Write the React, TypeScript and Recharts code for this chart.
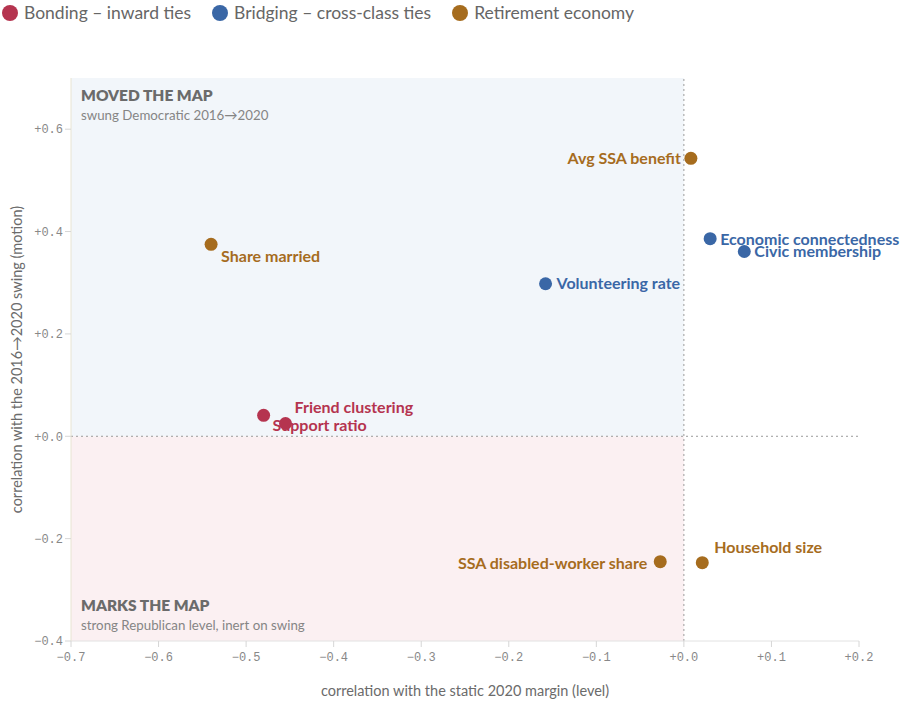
import {
  Label,
  LabelList,
  ReferenceArea,
  ReferenceLine,
  Scatter,
  ScatterChart,
  XAxis,
  YAxis,
} from 'recharts'

// bonding – inward ties
const bondingNames = ['Friend clustering', 'Support ratio']
const bondingX = [-0.455, -0.48]
const bondingY = [0.025, 0.041]

// bridging – cross-class ties
const bridgingNames = ['Volunteering rate', 'Economic connectedness', 'Civic membership']
const bridgingX = [-0.158, 0.03, 0.069]
const bridgingY = [0.298, 0.386, 0.361]

// retirement economy
const retirementNames = ['Share married', 'Avg SSA benefit', 'SSA disabled-worker share', 'Household size']
const retirementX = [-0.54, 0.008, -0.027, 0.021]
const retirementY = [0.375, 0.543, -0.245, -0.247]

const xTicks = [-0.7, -0.6, -0.5, -0.4, -0.3, -0.2, -0.1, 0, 0.1, 0.2]
const yTicks = [-0.4, -0.2, 0, 0.2, 0.4, 0.6]

const COLORS = {
  bonding: '#b5344f',
  bridging: '#3a67a6',
  retirement: '#a66c1e',
}

const legendItems = [
  { label: 'Bonding – inward ties', color: COLORS.bonding },
  { label: 'Bridging – cross-class ties', color: COLORS.bridging },
  { label: 'Retirement economy', color: COLORS.retirement },
]

// where each point's label sits relative to its dot
const labelPlacement: Record<string, { dx: number; dy: number; anchor: 'start' | 'end' }> = {
  'Share married': { dx: 10, dy: 12, anchor: 'start' },
  'Friend clustering': { dx: 9, dy: -16, anchor: 'start' },
  'Support ratio': { dx: 9, dy: 10, anchor: 'start' },
  'Volunteering rate': { dx: 11, dy: 0, anchor: 'start' },
  'Avg SSA benefit': { dx: -10, dy: 0, anchor: 'end' },
  'Economic connectedness': { dx: 10, dy: 1, anchor: 'start' },
  'Civic membership': { dx: 10, dy: 0, anchor: 'start' },
  'SSA disabled-worker share': { dx: -13, dy: 2, anchor: 'end' },
  'Household size': { dx: 12, dy: -15, anchor: 'start' },
}

const toRows = (names: string[], xs: number[], ys: number[]) =>
  names.map((name, i) => ({ name, x: xs[i], y: ys[i] }))

const bonding = toRows(bondingNames, bondingX, bondingY)
const bridging = toRows(bridgingNames, bridgingX, bridgingY)
const retirement = toRows(retirementNames, retirementX, retirementY)

const FONT = 'Lato, "Open Sans", sans-serif'
const MONO = '"Liberation Mono", "DejaVu Sans Mono", monospace'

const signed = (v: number) => {
  const s = Math.abs(v).toFixed(1)
  return v < 0 ? `\u2212${s}` : `+${s}`
}

function makeDot(color: string) {
  return (props: any) => <circle cx={props.cx} cy={props.cy} r={6.5} fill={color} />
}

const noDot = () => <g />

function makePointLabel(color: string) {
  return (props: any) => {
    const { x, y, width, height, value } = props
    const p = labelPlacement[value] ?? { dx: 10, dy: 0, anchor: 'start' }
    const cx = x + (width ?? 0) / 2
    const cy = y + (height ?? 0) / 2
    return (
      <text
        x={cx + p.dx}
        y={cy + p.dy}
        dy="0.35em"
        textAnchor={p.anchor}
        fill={color}
        fontFamily={FONT}
        fontWeight={700}
        fontSize={16}
      >
        {value}
      </text>
    )
  }
}

function quadrantLabel(title: string, sub: string, fromTop: boolean) {
  return (props: any) => {
    const vb = props.viewBox
    const x = vb.x + 10
    const titleY = fromTop ? vb.y + 23 : vb.y + vb.height - 30
    return (
      <g fontFamily={FONT}>
        <text x={x} y={titleY} fill="#6b6b6b" fontWeight={800} fontSize={15.5}>
          {title}
        </text>
        <text x={x} y={titleY + 19} fill="#858585" fontSize={13.3}>
          {sub}
        </text>
      </g>
    )
  }
}

function yTitle(props: any) {
  const vb = props.viewBox
  return (
    <text
      transform={`translate(${vb.x + 17}, ${vb.y + vb.height / 2}) rotate(-90)`}
      textAnchor="middle"
      dy="0.35em"
      fill="#6b6b6b"
      fontFamily={FONT}
      fontSize={14.5}
    >
      correlation with the 2016→2020 swing (motion)
    </text>
  )
}

const groups = [
  { key: 'bonding', data: bonding, color: COLORS.bonding },
  { key: 'bridging', data: bridging, color: COLORS.bridging },
  { key: 'retirement', data: retirement, color: COLORS.retirement },
]

export default function App() {
  return (
    <div style={{ position: 'absolute', left: 0, top: 0, width: 900, height: 706, background: '#fff' }}>
      <div
        style={{
          position: 'absolute',
          left: 2,
          top: 2,
          display: 'flex',
          alignItems: 'center',
          fontFamily: FONT,
          fontSize: 17.5,
          color: '#666',
        }}
      >
        {legendItems.map((item) => (
          <div key={item.label} style={{ display: 'flex', alignItems: 'center', marginRight: 21 }}>
            <span
              style={{
                display: 'inline-block',
                width: 16,
                height: 16,
                borderRadius: 8,
                background: item.color,
                marginRight: 6,
              }}
            />
            <span>{item.label}</span>
          </div>
        ))}
      </div>
      <ScatterChart width={900} height={706} margin={{ top: 78, right: 41, bottom: 0, left: 0 }}>
        <ReferenceArea
          x1={-0.7}
          x2={0}
          y1={0}
          y2={0.7}
          fill="#f2f6fa"
          fillOpacity={1}
          stroke="none"
          label={quadrantLabel('MOVED THE MAP', 'swung Democratic 2016→2020', true)}
        />
        <ReferenceArea
          x1={-0.7}
          x2={0}
          y1={-0.4}
          y2={0}
          fill="#fbf0f2"
          fillOpacity={1}
          stroke="none"
          label={quadrantLabel('MARKS THE MAP', 'strong Republican level, inert on swing', false)}
        />
        <ReferenceLine x={0} stroke="#9a9a9a" strokeDasharray="2 3" />
        <ReferenceLine y={0} stroke="#9a9a9a" strokeDasharray="2 3" />
        <XAxis
          type="number"
          dataKey="x"
          domain={[-0.7, 0.2]}
          ticks={xTicks}
          tickFormatter={signed}
          height={65}
          axisLine={{ stroke: '#e2e2e2' }}
          tickLine={{ stroke: '#d6d6d6' }}
          tickSize={6}
          tickMargin={5}
          tick={{ fill: '#888', fontFamily: MONO, fontSize: 12 }}
          allowDataOverflow
        >
          <Label
            value="correlation with the static 2020 margin (level)"
            position="insideBottom"
            offset={10}
            fill="#6b6b6b"
            fontFamily={FONT}
            fontSize={14.5}
          />
        </XAxis>
        <YAxis
          type="number"
          dataKey="y"
          domain={[-0.4, 0.7]}
          ticks={yTicks}
          tickFormatter={signed}
          width={71}
          axisLine={{ stroke: '#e8e4d2' }}
          tickLine={{ stroke: '#d6d6d6' }}
          tickSize={6}
          tick={{ fill: '#888', fontFamily: MONO, fontSize: 12 }}
          allowDataOverflow
        >
          <Label content={yTitle} />
        </YAxis>
        {groups.map((g) => (
          <Scatter
            key={`${g.key}-labels`}
            data={g.data}
            shape={noDot}
            legendType="none"
            isAnimationActive={false}
          >
            <LabelList dataKey="name" content={makePointLabel(g.color)} />
          </Scatter>
        ))}
        {groups.map((g) => (
          <Scatter
            key={g.key}
            name={g.key}
            data={g.data}
            fill={g.color}
            shape={makeDot(g.color)}
            isAnimationActive={false}
          />
        ))}
      </ScatterChart>
    </div>
  )
}
